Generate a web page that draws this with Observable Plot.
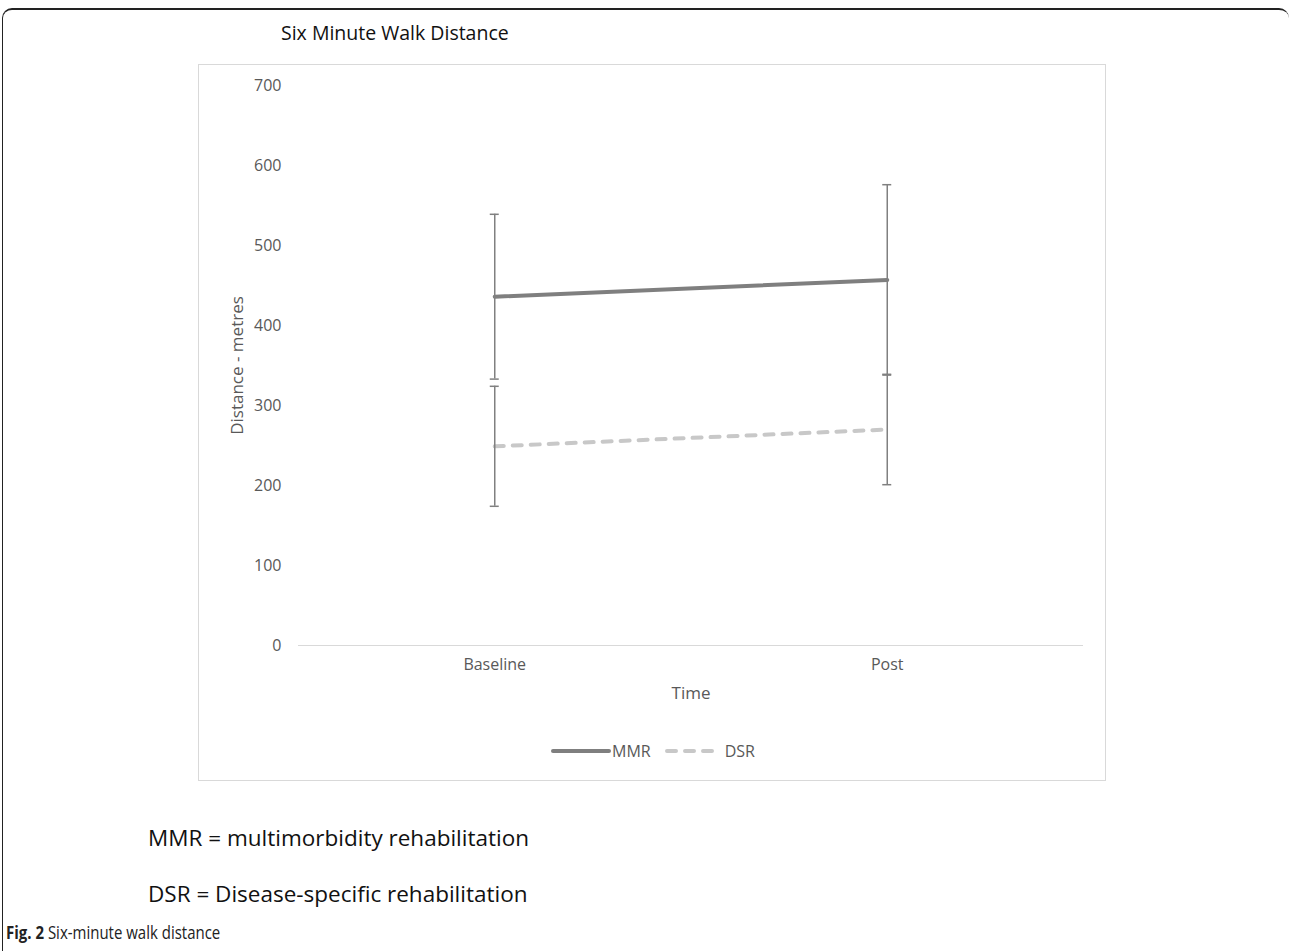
<!DOCTYPE html>
<html>
<head>
<meta charset="utf-8">
<script src="https://cdn.jsdelivr.net/npm/d3@7"></script>
<script src="https://cdn.jsdelivr.net/npm/@observablehq/plot@0.6"></script>
<style>
  html, body { margin: 0; padding: 0; background: #fff; }
  #page { position: relative; width: 1290px; height: 951px; overflow: hidden; background: #fff; font-family: "Open Sans", sans-serif; }
  #frame { position: absolute; left: 2px; top: 8px; width: 1287px; height: 960px; border-top: 2px solid #222; border-left: 1.5px solid #222; border-radius: 10px; box-sizing: border-box; }
  #title { position: absolute; left: 281px; top: 19px; font-size: 19.5px; color: #111; white-space: nowrap; line-height: 28px; }
  #box { position: absolute; left: 198px; top: 64px; width: 908px; height: 717px; border: 1px solid #d9d9d9; box-sizing: border-box; }
  #chart { position: absolute; left: 198px; top: 64px; }
  #legend { position: absolute; left: 551px; top: 740px; font-size: 16px; color: #595959; display: flex; align-items: center; white-space: nowrap; line-height: 22px; }
  .cap { position: absolute; left: 148px; font-size: 22.5px; color: #111; white-space: nowrap; line-height: 30px; }
  #fig { position: absolute; left: 6px; top: 919px; font-size: 18.5px; color: #222; white-space: nowrap; line-height: 26px; transform: scaleX(0.81); transform-origin: left center; }
</style>
</head>
<body>
<div id="page">
  <div id="frame"></div>
  <div id="title">Six Minute Walk Distance</div>
  <div id="box"></div>
  <div id="chart"></div>
  <div id="legend"></div>
  <div class="cap" style="top:823px">MMR = multimorbidity rehabilitation</div>
  <div class="cap" style="top:879px">DSR = Disease-specific rehabilitation</div>
  <div id="fig"><b>Fig. 2</b> Six-minute walk distance</div>
</div>
<script>
const timePoints = ["Baseline", "Post"];
const seriesNames = ["MMR", "DSR"];
const mmrMean = [436, 457];
const mmrSD = [103, 119];
const dsrMean = [249, 270];
const dsrSD = [75, 69];
const yTicks = [0, 100, 200, 300, 400, 500, 600, 700];

const rows = [];
timePoints.forEach((t, i) => {
  rows.push({series: "MMR", i, mean: mmrMean[i], lo: mmrMean[i] - mmrSD[i], hi: mmrMean[i] + mmrSD[i]});
  rows.push({series: "DSR", i, mean: dsrMean[i], lo: dsrMean[i] - dsrSD[i], hi: dsrMean[i] + dsrSD[i]});
});
const mmrRows = rows.filter(d => d.series === "MMR");
const dsrRows = rows.filter(d => d.series === "DSR");

const colMMR = "#7f7f7f", colDSR = "#c8c8c8", colErr = "#808080", colText = "#595959";

const plot = Plot.plot({
  width: 908,
  height: 717,
  marginLeft: 100,
  marginRight: 23,
  marginTop: 21,
  marginBottom: 136,
  style: { fontFamily: "Open Sans, sans-serif", fontSize: "16px", color: colText, background: "transparent" },
  x: { type: "linear", domain: [-0.5, 1.5], axis: null },
  y: { domain: [0, 700], axis: null },
  marks: [
    Plot.ruleY([0], { stroke: "#d9d9d9", strokeWidth: 1 }),
    Plot.axisY(yTicks, { tickSize: 0, tickPadding: 17, fill: colText, fontSize: 16, label: null }),
    Plot.axisX(timePoints.map((t, i) => i), { tickSize: 0, tickPadding: 13, tickFormat: i => timePoints[i], fill: colText, fontSize: 16, label: null }),
    Plot.text(["Time"], { frameAnchor: "bottom", dy: 53, fill: colText, fontSize: 17 }),
    Plot.text(["Distance - metres"], { frameAnchor: "left", textAnchor: "middle", dx: -61, rotate: -90, fill: colText, fontSize: 17 }),
    Plot.line(mmrRows, { x: "i", y: "mean", stroke: colMMR, strokeWidth: 4, strokeLinecap: "round" }),
    Plot.line(dsrRows, { x: "i", y: "mean", stroke: colDSR, strokeWidth: 4, strokeLinecap: "round", strokeDasharray: "9,9" }),
    Plot.ruleX(rows, { x: "i", y1: "lo", y2: "hi", stroke: colErr, strokeWidth: 1.5 }),
    Plot.ruleY(rows, { y: "hi", x1: "i", x2: "i", insetLeft: -4.5, insetRight: -4.5, stroke: colErr, strokeWidth: 1.5 }),
    Plot.ruleY(rows, { y: "lo", x1: "i", x2: "i", insetLeft: -4.5, insetRight: -4.5, stroke: colErr, strokeWidth: 1.5 })
  ]
});
document.getElementById("chart").appendChild(plot);

// legend
const leg = d3.select("#legend");
seriesNames.forEach((name, k) => {
  const w = k === 0 ? 60 : 52;
  const svg = leg.append("svg").attr("width", w).attr("height", 20).style("margin-left", k === 0 ? "0px" : "14px");
  const ln = svg.append("line").attr("x1", 2).attr("x2", w - 2).attr("y1", 10).attr("y2", 10)
    .attr("stroke", k === 0 ? colMMR : colDSR).attr("stroke-width", 4).attr("stroke-linecap", "round");
  if (k === 1) ln.attr("stroke-dasharray", "9,9");
  leg.append("span").text(name).style("margin-left", k === 0 ? "1px" : "8px");
});
</script>
</body>
</html>
